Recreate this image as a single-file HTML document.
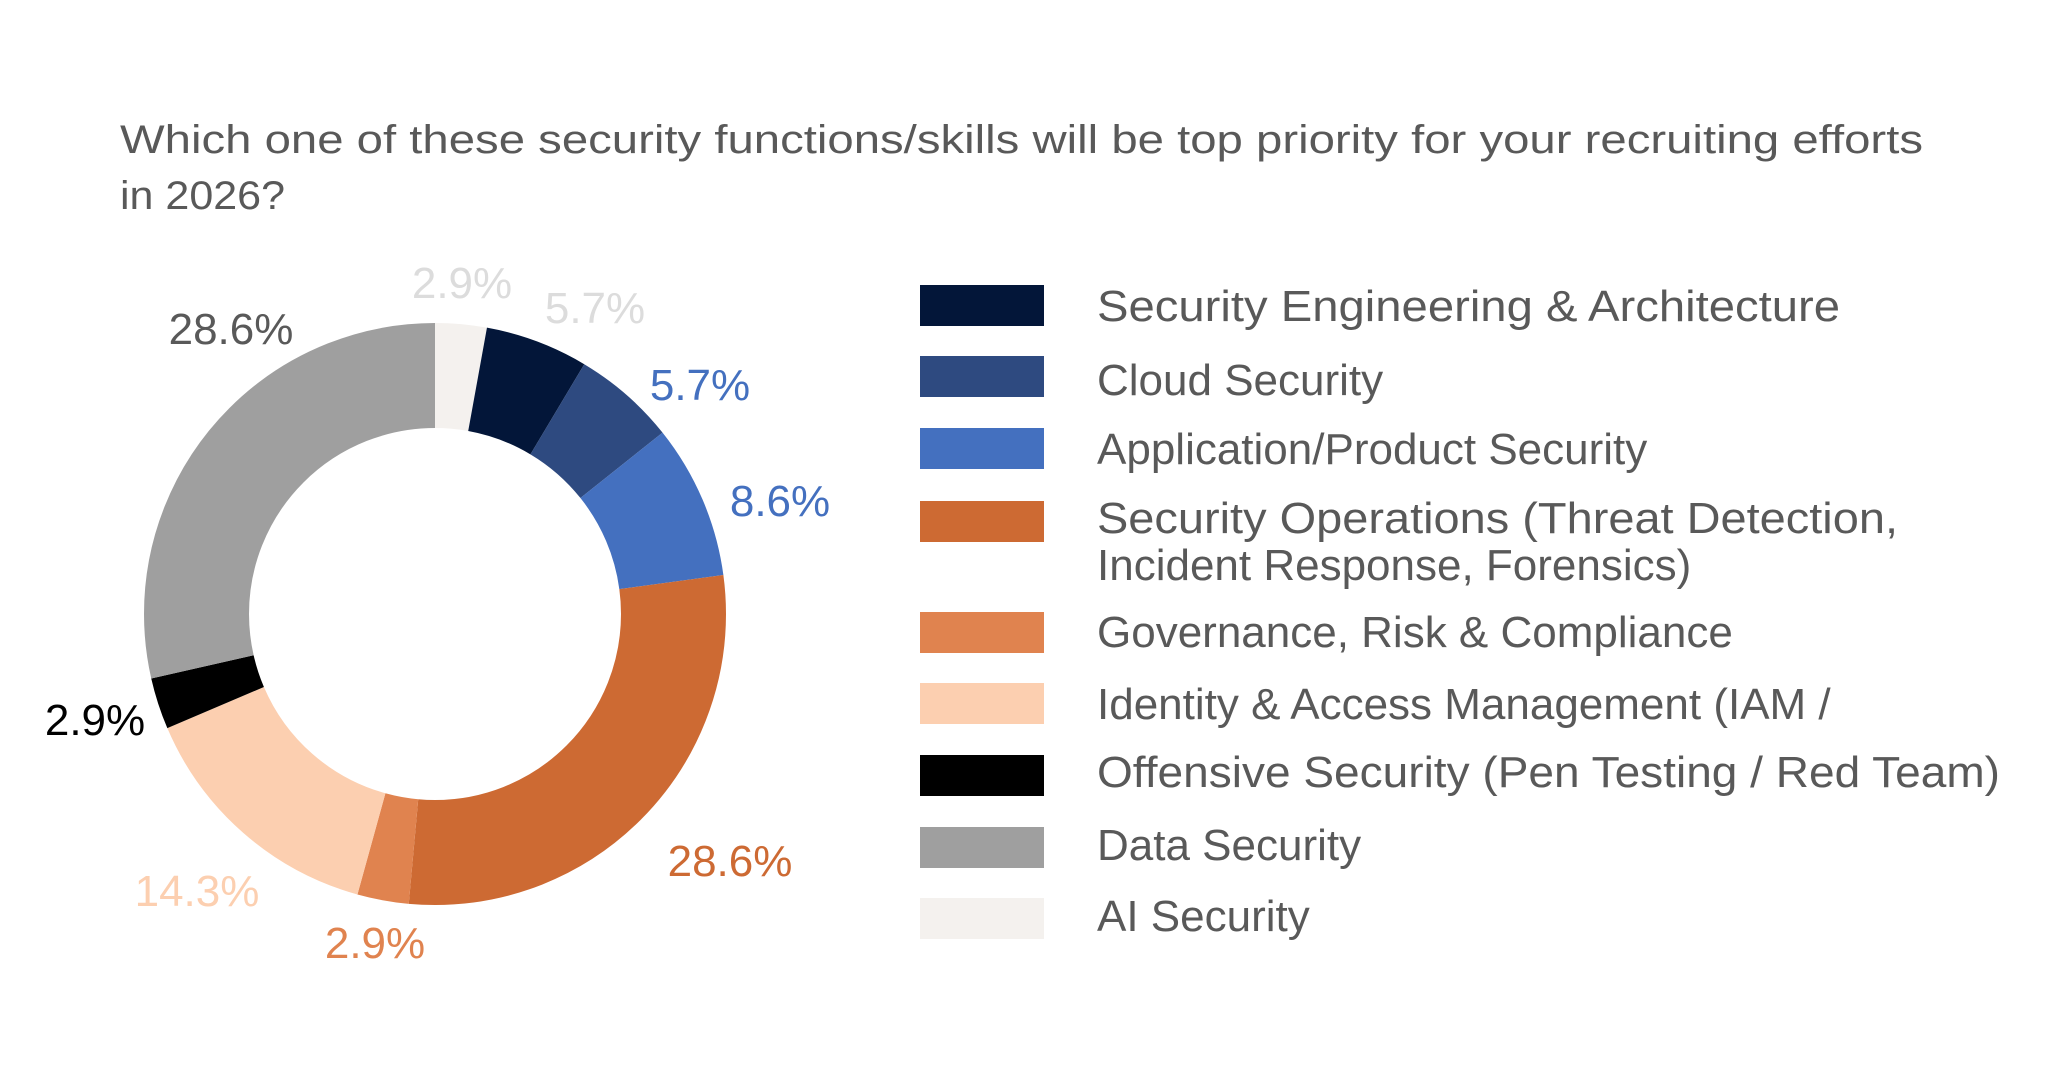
<!DOCTYPE html>
<html><head><meta charset="utf-8"><style>
html,body{margin:0;padding:0;background:#fff;}
svg{display:block;}
text{font-family:"Liberation Sans",sans-serif;}
</style></head><body>
<svg width="2048" height="1084" viewBox="0 0 2048 1084" xmlns="http://www.w3.org/2000/svg">
<rect width="2048" height="1084" fill="#fff"/>
<g fill="#595959" font-size="40">
<text x="120" y="153" textLength="1803" lengthAdjust="spacingAndGlyphs">Which one of these security functions/skills will be top priority for your recruiting efforts</text>
<text x="120" y="209" textLength="165" lengthAdjust="spacingAndGlyphs">in 2026?</text>
</g>
<g transform="rotate(-90 435 614)" fill="none" stroke-width="105">
<circle cx="435" cy="614" r="238.5" stroke="#f4f1ee" stroke-dasharray="42.815 1498.54" stroke-dashoffset="0"/>
<circle cx="435" cy="614" r="238.5" stroke="#031639" stroke-dasharray="85.63 1498.54" stroke-dashoffset="-42.815"/>
<circle cx="435" cy="614" r="238.5" stroke="#2e4a80" stroke-dasharray="85.63 1498.54" stroke-dashoffset="-128.44"/>
<circle cx="435" cy="614" r="238.5" stroke="#4470bf" stroke-dasharray="128.44 1498.54" stroke-dashoffset="-214.07"/>
<circle cx="435" cy="614" r="238.5" stroke="#cd6a33" stroke-dasharray="428.15 1498.54" stroke-dashoffset="-342.52"/>
<circle cx="435" cy="614" r="238.5" stroke="#e0834f" stroke-dasharray="42.815 1498.54" stroke-dashoffset="-770.67"/>
<circle cx="435" cy="614" r="238.5" stroke="#fccfb0" stroke-dasharray="214.07 1498.54" stroke-dashoffset="-813.48"/>
<circle cx="435" cy="614" r="238.5" stroke="#000000" stroke-dasharray="42.815 1498.54" stroke-dashoffset="-1027.56"/>
<circle cx="435" cy="614" r="238.5" stroke="#9f9f9f" stroke-dasharray="428.15 1498.54" stroke-dashoffset="-1070.37"/>
</g>
<g font-size="44" text-anchor="middle">
<text x="462" y="298" fill="#dcdcdc">2.9%</text>
<text x="595" y="323" fill="#dcdcdc">5.7%</text>
<text x="231" y="344" fill="#595959">28.6%</text>
<text x="700" y="400" fill="#4470bf">5.7%</text>
<text x="780" y="516" fill="#4470bf">8.6%</text>
<text x="95" y="735" fill="#000">2.9%</text>
<text x="730" y="876" fill="#cd6a33">28.6%</text>
<text x="197" y="906" fill="#fccfb0">14.3%</text>
<text x="375" y="958" fill="#e0834f">2.9%</text>
</g>
<g>
<rect x="920" y="285" width="124" height="41" fill="#031639"/>
<rect x="920" y="356" width="124" height="41" fill="#2e4a80"/>
<rect x="920" y="428" width="124" height="41" fill="#4470bf"/>
<rect x="920" y="501" width="124" height="41" fill="#cd6a33"/>
<rect x="920" y="612" width="124" height="41" fill="#e0834f"/>
<rect x="920" y="683" width="124" height="41" fill="#fccfb0"/>
<rect x="920" y="755" width="124" height="41" fill="#000000"/>
<rect x="920" y="827" width="124" height="41" fill="#9f9f9f"/>
<rect x="920" y="898" width="124" height="41" fill="#f4f1ee"/>
</g>
<g fill="#595959" font-size="44">
<text x="1097" y="321" textLength="743" lengthAdjust="spacingAndGlyphs">Security Engineering &amp; Architecture</text>
<text x="1097" y="395">Cloud Security</text>
<text x="1097" y="464">Application/Product Security</text>
<text x="1097" y="533" textLength="801" lengthAdjust="spacingAndGlyphs">Security Operations (Threat Detection,</text>
<text x="1097" y="580">Incident Response, Forensics)</text>
<text x="1097" y="647">Governance, Risk &amp; Compliance</text>
<text x="1097" y="719">Identity &amp; Access Management (IAM /</text>
<text x="1097" y="787" textLength="903" lengthAdjust="spacingAndGlyphs">Offensive Security (Pen Testing / Red Team)</text>
<text x="1097" y="860">Data Security</text>
<text x="1097" y="931">AI Security</text>
</g>
</svg>
</body></html>
